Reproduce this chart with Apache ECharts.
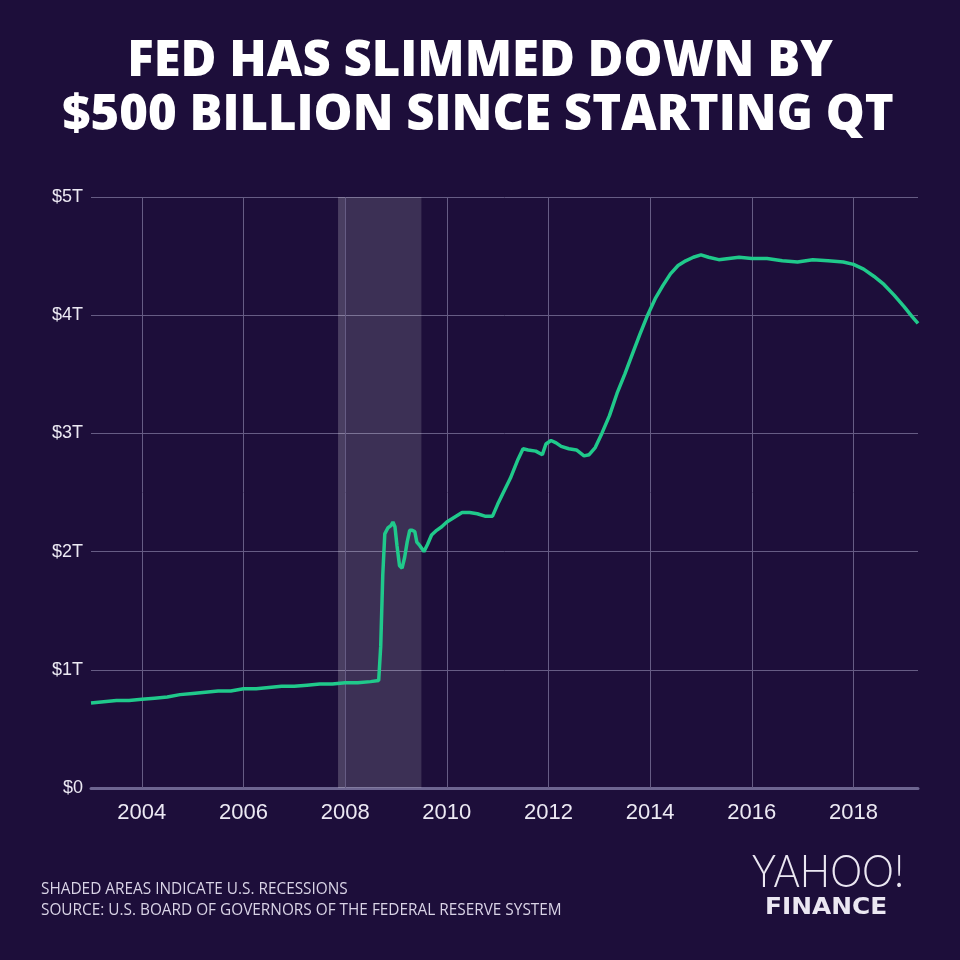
<!DOCTYPE html>
<html>
<head>
<meta charset="utf-8">
<script src="https://cdn.jsdelivr.net/npm/echarts@6/dist/echarts.min.js"></script>
<style>
html,body{margin:0;padding:0;background:#1d0e3a;}
#c{width:960px;height:960px;}
</style>
</head>
<body>
<div id="c"></div>
<script>
// Fed balance sheet, trillions USD, by fractional year
const years = [
 2003.00,2003.25,2003.50,2003.75,2004.00,2004.25,2004.50,2004.75,2005.00,2005.25,2005.50,2005.75,
 2006.00,2006.25,2006.50,2006.75,2007.00,2007.25,2007.50,2007.75,2008.00,2008.25,2008.50,2008.66,
 2008.70,2008.74,2008.78,2008.84,2008.90,2008.94,2008.98,2009.02,2009.07,2009.12,2009.17,2009.22,
 2009.27,2009.32,2009.37,2009.41,2009.47,2009.55,2009.62,2009.70,2009.80,2009.90,2010.00,2010.15,
 2010.30,2010.45,2010.60,2010.75,2010.90,2011.00,2011.10,2011.25,2011.40,2011.50,2011.60,2011.75,
 2011.88,2011.95,2012.05,2012.15,2012.25,2012.40,2012.55,2012.70,2012.80,2012.92,2013.05,2013.20,
 2013.35,2013.50,2013.65,2013.80,2013.95,2014.10,2014.25,2014.40,2014.55,2014.70,2014.85,2015.00,
 2015.15,2015.35,2015.55,2015.75,2016.00,2016.30,2016.60,2016.90,2017.20,2017.50,2017.80,2018.00,
 2018.20,2018.40,2018.60,2018.80,2019.00,2019.15,2019.27
];
const values = [
 0.72,0.73,0.74,0.74,0.75,0.76,0.77,0.79,0.80,0.81,0.82,0.82,
 0.84,0.84,0.85,0.86,0.86,0.87,0.88,0.88,0.89,0.89,0.90,0.91,
 1.20,1.80,2.15,2.20,2.22,2.25,2.21,2.05,1.88,1.86,1.95,2.08,
 2.18,2.18,2.17,2.08,2.05,2.00,2.06,2.14,2.18,2.21,2.25,2.29,
 2.33,2.33,2.32,2.30,2.30,2.40,2.49,2.62,2.78,2.87,2.86,2.85,
 2.82,2.91,2.94,2.92,2.89,2.87,2.86,2.81,2.82,2.88,3.00,3.15,
 3.34,3.50,3.67,3.84,4.00,4.14,4.25,4.35,4.42,4.46,4.49,4.51,
 4.49,4.47,4.48,4.49,4.48,4.48,4.46,4.45,4.47,4.46,4.45,4.43,
 4.39,4.33,4.26,4.17,4.07,3.99,3.93
];
const gridYears = [2004,2006,2008,2010,2012,2014,2016,2018];
const recession = [2007.86, 2009.5];
const recessionEdge = [2007.86, 2008.0];
const yTicks = [0,1,2,3,4,5];

const chart = echarts.init(document.getElementById('c'));
const series = years.map((y,i)=>[y, values[i]]);

chart.setOption({
  backgroundColor:'#1d0e3a',
  animation:false,
  grid:{left:91,right:42,top:197,bottom:172},
  xAxis:{
    type:'value',
    min:2003, max:years[years.length-1], interval:1,
    axisLine:{show:true,lineStyle:{color:'#6d6590',width:3}},
    axisTick:{show:false},
    splitLine:{show:false},
    axisLabel:{
      color:'#ece9f3', fontFamily:'Liberation Sans', fontSize:22, margin:14,
      formatter:v=> (Number.isInteger(v) && v%2===0) ? String(v) : ''
    }
  },
  yAxis:{
    type:'value', min:yTicks[0], max:yTicks[yTicks.length-1], interval:1,
    axisLine:{show:false}, axisTick:{show:false},
    splitLine:{lineStyle:{color:'#665c84',width:1}},
    axisLabel:{
      color:'#ece9f3', fontFamily:'Liberation Sans', fontSize:18, margin:8,
      formatter:v=> v===0 ? '$0' : '$'+v+'T'
    }
  },
  series:[
    {
      type:'line', data:[], z:1, silent:true,
      markLine:{
        silent:true, symbol:'none', label:{show:false},
        lineStyle:{color:'#665c84',width:1,type:'solid'},
        data:gridYears.map(y=>({xAxis:y}))
      },
      markArea:{
        silent:true,
        data:[
          [{xAxis:recession[0],itemStyle:{color:'rgba(255,255,255,0.14)'}},{xAxis:recession[1]}],
          [{xAxis:recessionEdge[0],itemStyle:{color:'rgba(255,255,255,0.07)'}},{xAxis:recessionEdge[1]}]
        ]
      }
    },
    {
      type:'line', data:series, z:5, showSymbol:false, silent:true,
      lineStyle:{color:'#20c98b',width:3.5}
    }
  ],
  graphic:[
    {type:'text',x:480,y:62,style:{text:'FED HAS SLIMMED DOWN BY',fill:'#ffffff',font:'800 49px "Open Sans"',textAlign:'center',textVerticalAlign:'middle'}},
    {type:'text',x:478,y:116,style:{text:'$500 BILLION SINCE STARTING QT',fill:'#ffffff',font:'800 49px "Open Sans"',textAlign:'center',textVerticalAlign:'middle'}},
    {type:'text',x:41,y:889,scaleX:0.96,style:{text:'SHADED AREAS INDICATE U.S. RECESSIONS',fill:'#d9d3e6',font:'16px "Open Sans"',textAlign:'left',textVerticalAlign:'middle'}},
    {type:'text',x:41,y:910,scaleX:0.96,style:{text:'SOURCE: U.S. BOARD OF GOVERNORS OF THE FEDERAL RESERVE SYSTEM',fill:'#d9d3e6',font:'16px "Open Sans"',textAlign:'left',textVerticalAlign:'middle'}},
    {type:'text',x:752,y:872,scaleX:0.895,style:{text:'YAHOO!',fill:'#ebe7f2',font:'300 45px Lato',textAlign:'left',textVerticalAlign:'middle'}},
    {type:'text',x:765,y:908,scaleX:1.08,style:{text:'FINANCE',fill:'#ebe7f2',font:'bold 23px "DejaVu Sans"',textAlign:'left',textVerticalAlign:'middle'}}
  ]
});
</script>
</body>
</html>
